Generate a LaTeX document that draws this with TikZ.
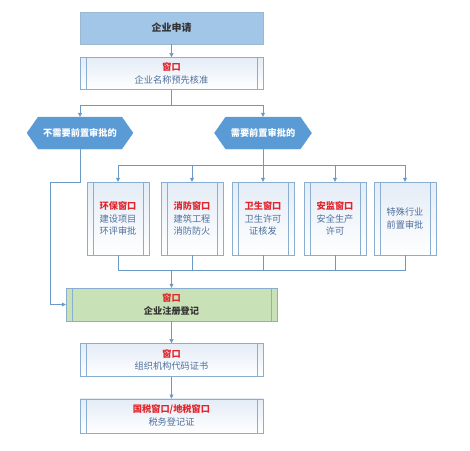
\documentclass[tikz,border=0pt]{standalone}
\usepackage{fontspec}
\setmainfont{Noto Sans CJK SC}
\usepackage{xcolor}
\usetikzlibrary{arrows.meta,positioning,shapes.symbols}
\definecolor{linkblue}{HTML}{6C9AC6}
\definecolor{edgeblue}{HTML}{8AAED2}
\definecolor{headblue}{HTML}{A2C6E8}
\definecolor{hexblue}{HTML}{5B9BD5}
\definecolor{textblue}{HTML}{4E6F9C}
\definecolor{winred}{HTML}{E2242B}
\definecolor{regreen}{HTML}{C8E1B6}
\definecolor{boxtint}{HTML}{E4ECF6}

\begin{document}
\begin{tikzpicture}[x=1pt, y=-1pt,
  font=\fontsize{9.2}{12.8}\selectfont,
  proc/.style={rectangle, draw=edgeblue, top color=boxtint, bottom color=white,
    text=textblue, align=center, inner sep=0pt,
    path picture={
      \draw[edgeblue] ([xshift=6pt]path picture bounding box.north west)
        -- ([xshift=6pt]path picture bounding box.south west);
      \draw[edgeblue] ([xshift=-6pt]path picture bounding box.north east)
        -- ([xshift=-6pt]path picture bounding box.south east);}},
  wide/.style={proc, minimum width=183pt, minimum height=32pt},
  tall/.style={proc, minimum width=62pt, minimum height=73pt},
  hexa/.style={signal, signal to=west and east, signal pointer angle=110,
    fill=hexblue, draw=hexblue, text=white, font=\fontsize{9.2}{12}\selectfont\bfseries,
    minimum height=32pt, inner xsep=2pt},
  arr/.style={draw=linkblue, -{Triangle[width=4pt,length=4pt]}},
  link/.style={draw=linkblue},
]
  \useasboundingbox (0,0) rectangle (470,450);

  \node[rectangle, draw=headblue!80!gray, fill=headblue, minimum width=183pt,
    minimum height=32pt, font=\bfseries, text=black!80] (apply) at (171.5,28) {企业申请};
  \node[wide, below=13pt of apply] (name)
    {{\color{winred}\bfseries 窗口}\\企业名称预先核准};

  \node[hexa, minimum width=106pt] (nopre) at (80,133) {不需要前置审批的};
  \node[hexa, minimum width=97pt] (pre) at (263,133) {需要前置审批的};

  \node[tall] (w1) at (118,218.5) {\textcolor{winred}{\bfseries 环保窗口}\\建设项目\\环评审批};
  \node[tall] (w2) at (192,218.5) {\textcolor{winred}{\bfseries 消防窗口}\\建筑工程\\消防防火};
  \node[tall] (w3) at (263,218.5) {\textcolor{winred}{\bfseries 卫生窗口}\\卫生许可\\证核发};
  \node[tall] (w4) at (335,218.5) {\textcolor{winred}{\bfseries 安监窗口}\\安全生产\\许可};
  \node[tall] (w5) at (405,218.5) {特殊行业\\前置审批};

  \node[proc, fill=regreen, top color=regreen, bottom color=regreen,
    minimum width=211pt, minimum height=33pt, text=black!80] (reg) at (171.5,304.5)
    {\textcolor{winred}{\bfseries 窗口}\\\textbf{企业注册登记}};
  \node[wide, minimum height=33pt, below=22pt of reg] (org)
    {\textcolor{winred}{\bfseries 窗口}\\组织机构代码证书};
  \node[wide, minimum height=34pt, below=22pt of org] (tax)
    {\textcolor{winred}{\bfseries 国税窗口/地税窗口}\\税务登记证};

  % split points
  \coordinate (s1) at (171.5,105);
  \coordinate (s2) at (263,165);
  \coordinate (m1) at (171.5,270);

  \draw[arr] (apply) -- (name);
  \draw[link] (name) -- (s1);
  \draw[arr] (s1) -| (nopre.north);
  \draw[arr] (s1) -| (pre.north);
  \draw[arr] (nopre.south) -- ++(0,33) -| ([xshift=-16pt]reg.west) -- (reg.west);
  \draw[link] (pre.south) -- (s2);
  \foreach \w in {w1,w2,w3,w4,w5} {
    \draw[arr] (s2) -| (\w.north);
    \draw[link] (\w.south) |- (m1);
  }
  \draw[arr] (m1) -- (reg);
  \draw[arr] (reg) -- (org);
  \draw[arr] (org) -- (tax);
\end{tikzpicture}
\end{document}
